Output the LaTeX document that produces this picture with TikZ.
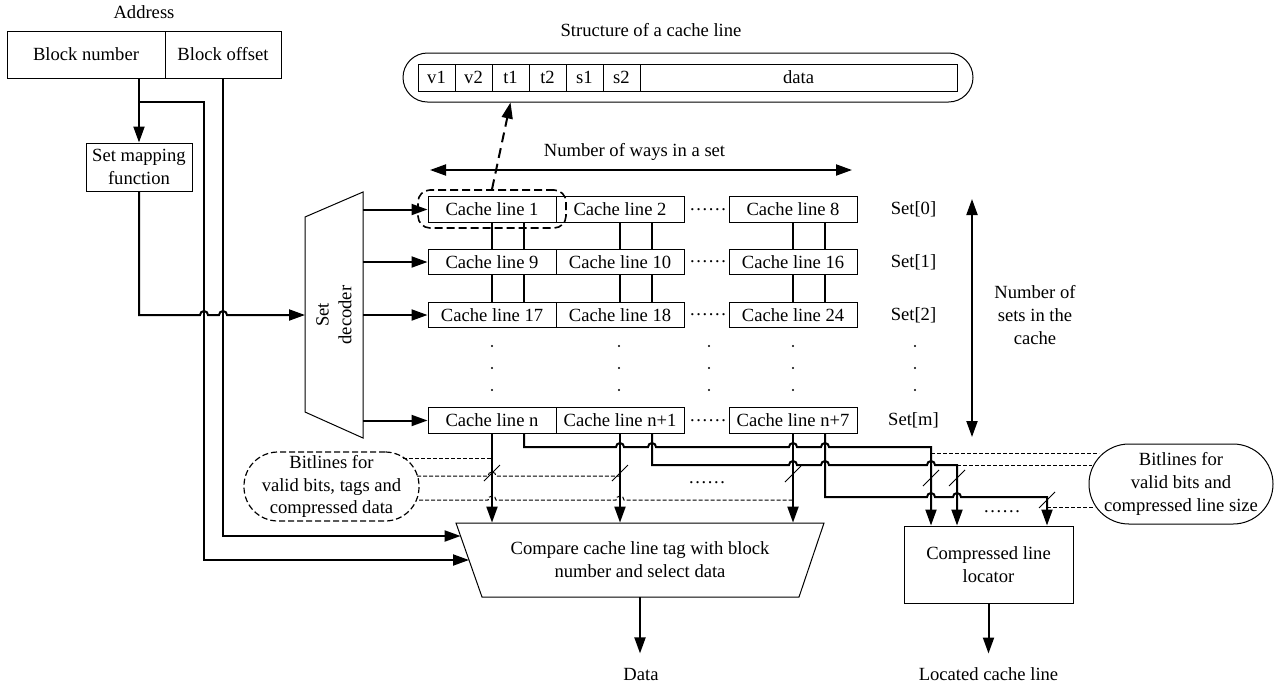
\documentclass[tikz,border=0pt]{standalone}
\usepackage{fontspec}
\setmainfont{Liberation Serif}
\usetikzlibrary{arrows.meta}
\begin{document}
\begin{tikzpicture}[x=0.5pt,y=-0.5pt,
  font=\fontsize{9.3}{11.4}\selectfont,
  box/.style={draw, line width=0.5pt, inner sep=0pt, align=center},
  cl/.style={box, minimum width=64pt, minimum height=12.75pt},
  bus/.style={line width=1pt},
  arr/.style={-{Triangle[length=8pt,width=5.5pt]}},
  darr/.style={{Triangle[length=8pt,width=5.5pt]}-{Triangle[length=8pt,width=5.5pt]}},
  bit/.style={line width=0.5pt, dash pattern=on 2pt off 1pt},
  tick/.style={line width=0.4pt},
  lbl/.style={inner sep=0pt, align=center}]
\useasboundingbox (0,0) rectangle (1274,687);

% Address
\node[lbl] (addr) at (144,12) {Address};
\node[box, minimum width=79pt, minimum height=23.5pt] (bn) at (86,54.5) {Block number};
\node[box, minimum width=58pt, minimum height=23.5pt] (bo) at (223,54.5) {Block offset};
\node[box, minimum width=53pt, minimum height=24pt] (smf) at (139,167) {Set mapping\\function};

% Set decoder
\draw[line width=0.5pt] (305,217) -- (363,192) -- (363,438) -- (305,412) -- cycle;
\node[lbl, rotate=90] (dec) at (334,315) {Set\\decoder};
\coordinate (decin) at (305,315);

% cache line structure
\node[lbl] (stt) at (651,30) {Structure of a cache line};
\node[draw, line width=0.5pt, rounded corners=12.25pt, minimum width=285pt, minimum height=24.5pt] (sline) at (688,77.5) {};
\node[box, minimum width=18.5pt, minimum height=13.5pt] (v1) at (436.5,77.5) {v1};
\node[box, minimum width=18.5pt, minimum height=13.5pt] (v2) at (473.5,77.5) {v2};
\node[box, minimum width=18.5pt, minimum height=13.5pt] (t1) at (510.5,77.5) {t1};
\node[box, minimum width=18.5pt, minimum height=13.5pt] (t2) at (547.5,77.5) {t2};
\node[box, minimum width=18.5pt, minimum height=13.5pt] (s1) at (584.5,77.5) {s1};
\node[box, minimum width=18.5pt, minimum height=13.5pt] (s2) at (621.5,77.5) {s2};
\node[box, minimum width=158.5pt, minimum height=13.5pt] (data) at (798.5,77.5) {data};

% ways arrow
\node[lbl] (ways) at (634.5,152) {Number of ways in a set};
\coordinate (wl) at (430,170);
\coordinate (wr) at (852,170);
\draw[bus,darr] (wl) -- (wr);

% cache lines
\node[cl] (c00) at (492,209.5) {Cache line 1};
\node[cl] (c01) at (620,209.5) {Cache line 2};
\node[cl] (c02) at (793,209.5) {Cache line 8};
\node[cl] (c10) at (492,262) {Cache line 9};
\node[cl] (c11) at (620,262) {Cache line 10};
\node[cl] (c12) at (793,262) {Cache line 16};
\node[cl] (c20) at (492,315) {Cache line 17};
\node[cl] (c21) at (620,315) {Cache line 18};
\node[cl] (c22) at (793,315) {Cache line 24};
\node[cl] (cm0) at (492,420.5) {Cache line n};
\node[cl] (cm1) at (620,420.5) {Cache line n+1};
\node[cl] (cm2) at (793,420.5) {Cache line n+7};
\node[lbl] (d0) at (708,209.5) {……};
\node[lbl] (d1) at (708,262) {……};
\node[lbl] (d2) at (708,315) {……};
\node[lbl] (dm) at (708,420.5) {……};
\node[lbl] (s0) at (913.5,209.5) {Set[0]};
\node[lbl] (s1l) at (913.5,262) {Set[1]};
\node[lbl] (s2l) at (913.5,315) {Set[2]};
\node[lbl] (sm) at (913.5,420.5) {Set[m]};
\foreach \x in {492,619,709,793,915} \foreach \y in {346,368,390} \fill (\x,\y) circle[radius=0.6pt];

% sets arrow
\coordinate (st) at (972,199);
\coordinate (sb) at (972,437);
\draw[bus,darr] (st) -- (sb);
\node[lbl] (nsets) at (1035,315) {Number of\\sets in the\\cache};

% highlight and dashed arrow
\node[draw, line width=0.8pt, dash pattern=on 4pt off 2pt, rounded corners=6pt, minimum width=74pt, minimum height=19pt] (hl) at (492,209) {};
\draw[line width=1pt, dash pattern=on 5pt off 3pt, arr] (hl.north) -- (t1.center |- sline.south);

% address lines
\draw[bus,arr] (bn.south -| smf.north) -- (smf.north);
\coordinate (cmpin1) at (460.6,536);
\coordinate (cmpin2) at (469,560);
\draw[bus,arr] (139,102) -- (204,102) -- (204,560) -- (cmpin2);
\draw[bus,arr] (bo.south) -- (223,536) -- (cmpin1);
\draw[bus,arr] (smf.south) -- (139,315) -- (200,315) arc[start angle=180,end angle=0,radius=2pt] -- (219,315) arc[start angle=180,end angle=0,radius=2pt] -- (decin);

% decoder outputs
\draw[bus,arr] (363,209.5) -- (c00.west);
\draw[bus,arr] (363,262) -- (c10.west);
\draw[bus,arr] (363,315) -- (c20.west);
\draw[bus,arr] (363,420.5) -- (cm0.west);

% row connectors
\foreach \a/\b in {c00/c10,c01/c11,c02/c12,c10/c20,c11/c21,c12/c22} {
  \draw[bus] (\a.south) -- (\b.north);
  \draw[bus] ([xshift=16pt]\a.south) -- ([xshift=16pt]\b.north);
}

% compare and locator
\draw[line width=0.5pt] (456,523) -- (824,523) -- (799,597) -- (482,597) -- cycle;
\node[lbl, minimum height=37pt] (cmp) at (640,560) {Compare cache line tag with block\\number and select data};
\node[box, minimum width=84.5pt, minimum height=38.5pt] (loc) at (988.5,564.5) {Compressed line\\locator};
\draw[bus,arr] (cmp.south) -- ++(0,56);
\node[lbl] (dout) at (641,674) {Data};
\draw[bus,arr] (loc.south) -- ++(0,50);
\node[lbl] (lout) at (988.5,674) {Located cache line};

% bitlines to compare
\draw[bus,arr] (cm0.south) -- (cm0.south |- cmp.north);
\draw[bus,arr] (cm1.south) -- (cm1.south |- cmp.north);
\draw[bus,arr] (cm2.south) -- (cm2.south |- cmp.north);

% bitlines to locator
\draw[bus,arr] ([xshift=16pt]cm0.south) -- (524,447) -- (616,447) arc[start angle=180,end angle=0,radius=2pt] -- (648,447) arc[start angle=180,end angle=0,radius=2pt] -- (789,447) arc[start angle=180,end angle=0,radius=2pt] -- (821,447) arc[start angle=180,end angle=0,radius=2pt] -- (931,447) -- (loc.north -| 931,0);
\draw[bus,arr] ([xshift=16pt]cm1.south) -- (652,465) -- (789,465) arc[start angle=180,end angle=0,radius=2pt] -- (821,465) arc[start angle=180,end angle=0,radius=2pt] -- (927,465) arc[start angle=180,end angle=0,radius=2pt] -- (957,465) -- (loc.north -| 957,0);
\draw[bus,arr] ([xshift=16pt]cm2.south) -- (825,497) -- (927,497) arc[start angle=180,end angle=0,radius=2pt] -- (953,497) arc[start angle=180,end angle=0,radius=2pt] -- (1047,497) -- (loc.north -| 1047,0);

% left bitline label
\node[draw, line width=0.6pt, dash pattern=on 3pt off 1.5pt, rounded corners=17pt, minimum width=87.5pt, minimum height=34.5pt, align=center, inner sep=0pt] (lbit) at (331.5,486.5) {Bitlines for\\valid bits, tags and\\compressed data};
\draw[bit] (403,458) -- (492,458);
\draw[bit] (417,476) -- (488,476) arc[start angle=180,end angle=0,radius=2pt] -- (620,476);
\draw[bit] (419,500) -- (488,500) arc[start angle=180,end angle=0,radius=2pt] -- (616,500) arc[start angle=180,end angle=0,radius=2pt] -- (793,500);
\node[lbl] (ldots) at (707,483) {……};

% right bitline label
\node[draw, line width=0.5pt, rounded corners=20pt, minimum width=92pt, minimum height=40pt, align=center, inner sep=0pt] (rbit) at (1181,484) {Bitlines for\\valid bits and\\compressed line size};
\draw[bit] (931,453) -- (1099,453);
\draw[bit] (957,465) -- (1092,465);
\draw[bit] (1047,507) -- (1095,507);
\node[lbl] (rdots) at (1002,512) {……};

% bus width ticks
\foreach \x/\y in {492/473, 620/473, 793/474, 931/478, 957/478, 1047/500}
  \draw[tick] (\x-8,\y+8) -- (\x+8,\y-8);
\end{tikzpicture}
\end{document}
